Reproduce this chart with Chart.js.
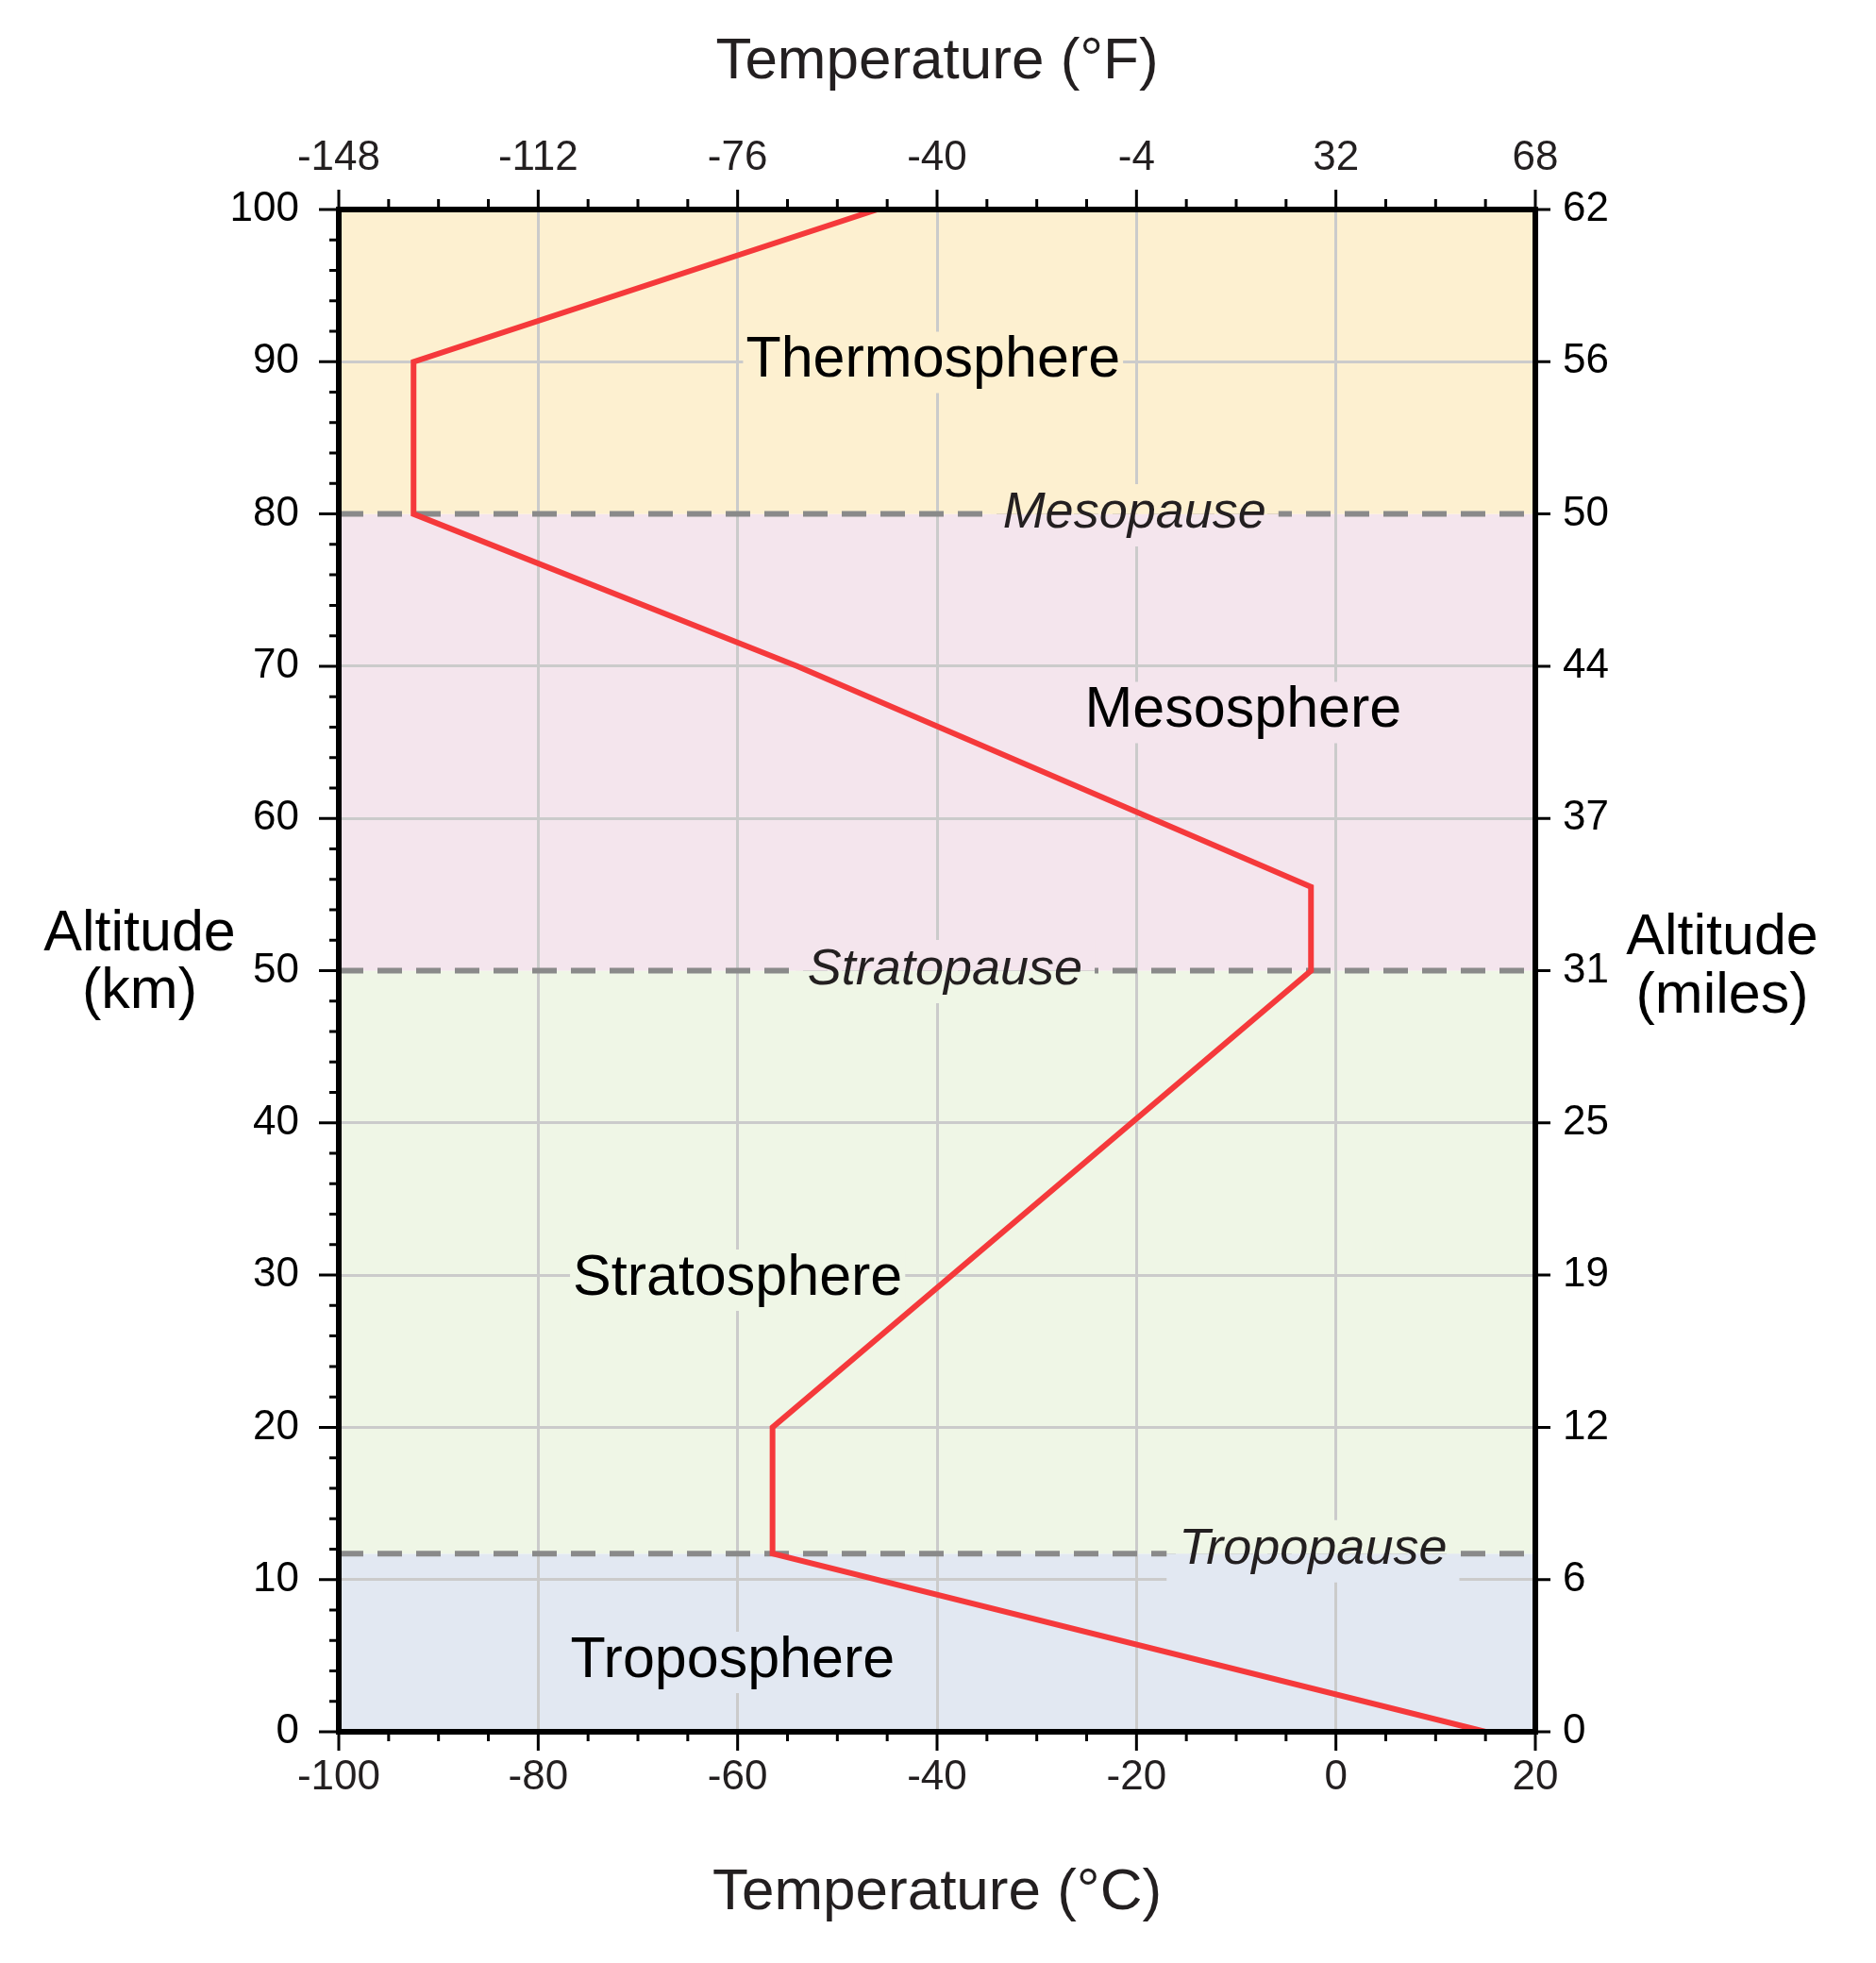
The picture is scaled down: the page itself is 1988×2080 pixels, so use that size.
<!DOCTYPE html>
<html>
<head>
<meta charset="utf-8">
<title>Temperature of the atmosphere</title>
<script src="https://cdn.jsdelivr.net/npm/chart.js@4.4.1/dist/chart.umd.min.js"></script>
<style>
  html, body { margin: 0; padding: 0; background: #fff; }
  #chart { display: block; }
</style>
</head>
<body>
<canvas id="chart" width="1988" height="2080"></canvas>
<script>
// Temperature profile (km, degC)
const altitudeKm   = [0, 11.7, 20, 50, 55.5, 70, 80, 90, 100];
const temperatureC = [15, -56.5, -56.5, -2.5, -2.5, -54, -92.5, -92.5, -46];

// Layers, bottom to top
const layerNames  = ['Troposphere', 'Stratosphere', 'Mesosphere', 'Thermosphere'];
const layerBounds = [0, 11.7, 50, 80, 100];

const pauseNames     = ['Tropopause', 'Stratopause', 'Mesopause'];
const pauseAltitudes = [11.7, 50, 80];

// Tick labels
const celsiusTicks    = [-100, -80, -60, -40, -20, 0, 20];
const fahrenheitTicks = [-148, -112, -76, -40, -4, 32, 68];
const kmTicks         = [0, 10, 20, 30, 40, 50, 60, 70, 80, 90, 100];
const milesTicks      = ['0', '6', '12', '19', '25', '31', '37', '44', '50', '56', '62'];

// Styling
const FONT = '"Liberation Sans", Arial, Helvetica, sans-serif';
const TEXT = '#231f20';
const GRID = '#cbcbcb';
const layerColors = ['#e2e8f2', '#eff6e6', '#f4e5ed', '#fdf0d0'];
const layerLabelAt = [
  { x: -60.5, y: 4.9 },
  { x: -60, y: 30 },
  { x: -9.3, y: 67.3 },
  { x: -40.4, y: 90.3 }
];
const pauseLabelAt = [
  { x: -2.3, dy: -8 },
  { x: -39.2, dy: -4 },
  { x: -20.2, dy: -4 }
];

const fillLayers = (chart) => {
  const { ctx, chartArea: a, scales: { y } } = chart;
  layerColors.forEach((col, i) => {
    const top = y.getPixelForValue(layerBounds[i + 1]);
    const bot = y.getPixelForValue(layerBounds[i]);
    ctx.fillStyle = col;
    ctx.fillRect(a.left, top, a.right - a.left, bot - top);
  });
};

// draws a text label with its own patch of background, so grid and dashes stop round it
const drawLabel = (chart, text, cx, cy, font, color, padX, padY) => {
  const { ctx } = chart;
  ctx.font = font;
  const capH = ctx.measureText('H').actualBoundingBoxAscent;
  const m = ctx.measureText(text);
  const base = cy + capH / 2;
  const left = cx - m.width / 2;
  ctx.save();
  ctx.beginPath();
  ctx.rect(left - padX, base - m.actualBoundingBoxAscent - padY,
           m.width + 2 * padX, m.actualBoundingBoxAscent + m.actualBoundingBoxDescent + 2 * padY);
  ctx.clip();
  fillLayers(chart);
  ctx.restore();
  ctx.fillStyle = color;
  ctx.textAlign = 'left';
  ctx.textBaseline = 'alphabetic';
  ctx.fillText(text, left, base);
};

const atmospherePlugin = {
  id: 'atmosphere',
  beforeDraw(chart) {
    chart.ctx.save();
    fillLayers(chart);
    chart.ctx.restore();
  },
  beforeDatasetsDraw(chart) {
    const { ctx, chartArea: a, scales: { x, y } } = chart;
    ctx.save();
    ctx.strokeStyle = '#8a8a8a';
    ctx.lineWidth = 6;
    ctx.setLineDash([26, 15]);
    pauseAltitudes.forEach(h => {
      const py = y.getPixelForValue(h);
      ctx.beginPath();
      ctx.moveTo(a.left, py);
      ctx.lineTo(a.right, py);
      ctx.stroke();
    });
    ctx.setLineDash([]);

    layerNames.forEach((name, i) => {
      const p = layerLabelAt[i];
      drawLabel(chart, name, x.getPixelForValue(p.x), y.getPixelForValue(p.y), '61px ' + FONT, '#000', 3, 4);
    });
    pauseNames.forEach((name, i) => {
      const p = pauseLabelAt[i];
      drawLabel(chart, name, x.getPixelForValue(p.x), y.getPixelForValue(pauseAltitudes[i]) + p.dy,
                'italic 54px ' + FONT, TEXT, 13, 9);
    });
    ctx.restore();
  },
  afterDraw(chart) {
    const { ctx, chartArea: a, scales: { x, y } } = chart;
    ctx.save();
    ctx.strokeStyle = '#000';
    ctx.lineWidth = 3;
    ctx.beginPath();
    // minor ticks every 5 degC (9 degF), every 2 km on the left
    for (let c = -100; c <= 20; c += 5) {
      const px = x.getPixelForValue(c);
      const major = c % 20 === 0;
      ctx.moveTo(px, a.top);
      ctx.lineTo(px, a.top - (major ? 21 : 11));
      ctx.moveTo(px, a.bottom);
      ctx.lineTo(px, a.bottom + (major ? 20 : 10));
    }
    for (let k = 0; k <= 100; k += 2) {
      const py = y.getPixelForValue(k);
      const major = k % 10 === 0;
      ctx.moveTo(a.left, py);
      ctx.lineTo(a.left - (major ? 21 : 10), py);
      if (major) {
        ctx.moveTo(a.right, py);
        ctx.lineTo(a.right + 16, py);
      }
    }
    ctx.stroke();
    ctx.lineWidth = 6;
    ctx.strokeRect(a.left, a.top, a.right - a.left, a.bottom - a.top);

    // axis titles
    const midX = (a.left + a.right) / 2;
    ctx.textAlign = 'center';
    ctx.textBaseline = 'alphabetic';
    ctx.fillStyle = TEXT;
    ctx.font = '62px ' + FONT;
    ctx.fillText('Temperature (°F)', midX, 83);
    ctx.fillText('Temperature (°C)', midX, 2023);
    ctx.fillStyle = '#000';
    ctx.font = '61px ' + FONT;
    ctx.fillText('Altitude', 148, 1007);
    ctx.fillText('(km)', 148, 1068);
    ctx.fillText('Altitude', 1825, 1011);
    ctx.fillText('(miles)', 1825, 1073);
    ctx.restore();
  }
};

const tickFont = { family: FONT, size: 44 };

new Chart(document.getElementById('chart'), {
  type: 'scatter',
  data: {
    datasets: [{
      data: altitudeKm.map((h, i) => ({ x: temperatureC[i], y: h })),
      showLine: true,
      borderColor: '#f5393b',
      borderWidth: 6,
      pointRadius: 0,
      tension: 0,
      xAxisID: 'x',
      yAxisID: 'y'
    }]
  },
  options: {
    responsive: false,
    devicePixelRatio: 1,
    animation: false,
    layout: { padding: 0 },
    plugins: { legend: { display: false }, tooltip: { enabled: false } },
    scales: {
      x: {
        type: 'linear', position: 'bottom', min: -100, max: 20,
        afterBuildTicks: s => { s.ticks = celsiusTicks.map(v => ({ value: v })); },
        afterFit: s => { s.height = 245; },
        ticks: { font: tickFont, color: TEXT, padding: 22, maxRotation: 0, callback: v => String(v) },
        grid: { color: GRID, lineWidth: 3, drawTicks: false },
        border: { display: false }
      },
      xTop: {
        type: 'linear', position: 'top', min: -148, max: 68,
        afterBuildTicks: s => { s.ticks = fahrenheitTicks.map(v => ({ value: v })); },
        afterFit: s => { s.height = 222; },
        ticks: { font: tickFont, color: TEXT, padding: 28, maxRotation: 0, callback: v => String(v) },
        grid: { display: false, drawTicks: false },
        border: { display: false }
      },
      y: {
        type: 'linear', position: 'left', min: 0, max: 100,
        afterBuildTicks: s => { s.ticks = kmTicks.map(v => ({ value: v })); },
        afterFit: s => { s.width = 359; },
        ticks: { font: tickFont, color: '#000', padding: 42, callback: v => String(v) },
        grid: {
          color: c => pauseAltitudes.includes(c.tick.value) ? 'rgba(0,0,0,0)' : GRID,
          lineWidth: 3, drawTicks: false
        },
        border: { display: false }
      },
      yRight: {
        type: 'linear', position: 'right', min: 0, max: 100,
        afterBuildTicks: s => { s.ticks = kmTicks.map(v => ({ value: v })); },
        afterFit: s => { s.width = 361; },
        ticks: { font: tickFont, color: '#000', padding: 29, callback: (v, i) => milesTicks[i] },
        grid: { display: false, drawTicks: false },
        border: { display: false }
      }
    }
  },
  plugins: [atmospherePlugin]
});
</script>
</body>
</html>
